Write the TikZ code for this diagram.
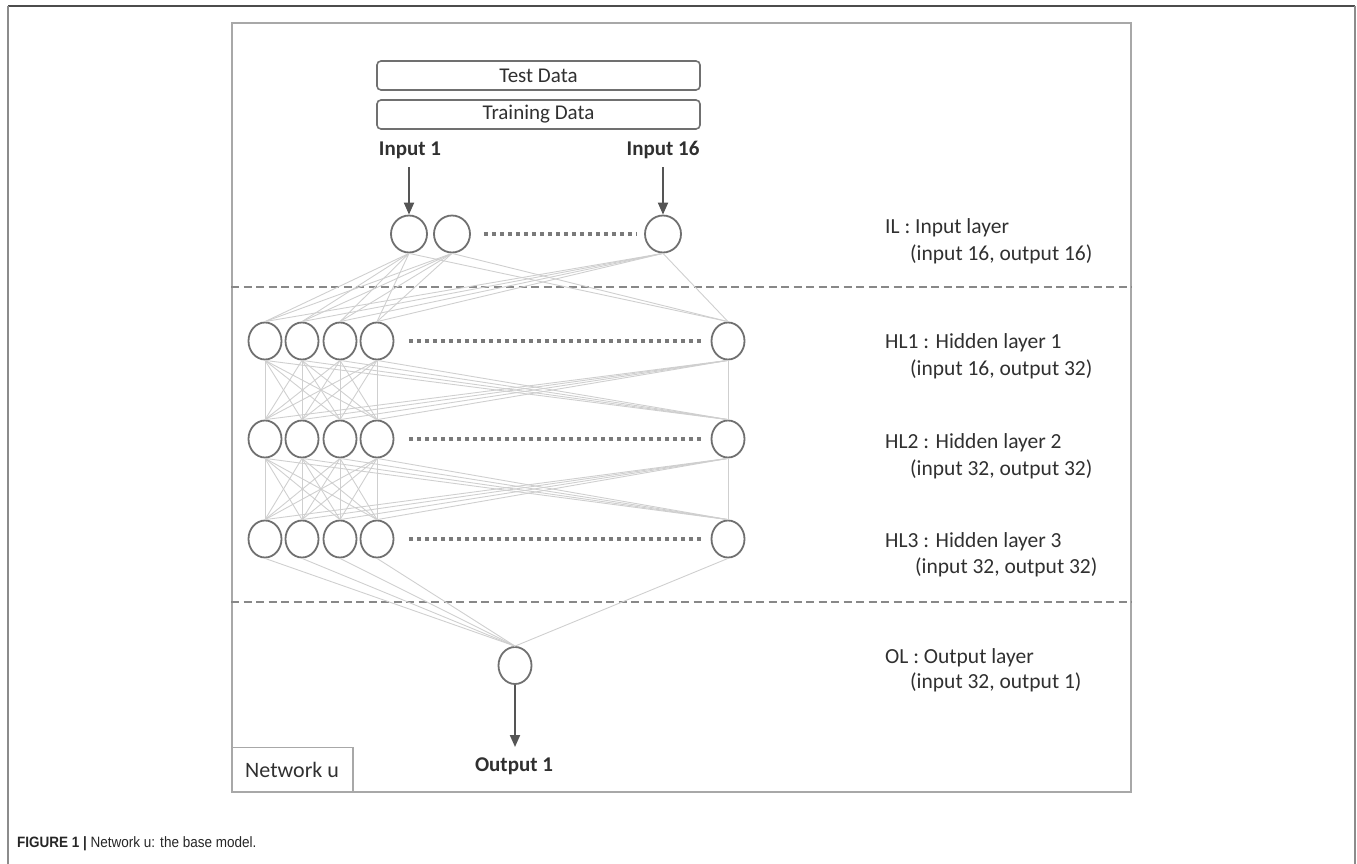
\documentclass[tikz,border=0pt]{standalone}
\usepackage{fontspec}
\setmainfont{Carlito}
\newfontfamily\capfont[FakeStretch=0.9]{Liberation Sans}
\usetikzlibrary{arrows.meta,shapes.geometric}
\definecolor{nodegray}{HTML}{707070}
\definecolor{linkgray}{HTML}{CFCFCF}
\definecolor{framegray}{HTML}{A8A8A8}
\definecolor{dashgray}{HTML}{888888}
\definecolor{dotgray}{HTML}{7A7A7A}
\definecolor{txt}{HTML}{303030}
\definecolor{arrowgray}{HTML}{555555}
\begin{document}
\begin{tikzpicture}[x=1pt,y=-1pt,
  neuron/.style={ellipse,draw=nodegray,fill=white,line width=1.8pt,
    minimum width=33pt,minimum height=37pt,inner sep=0pt},
  inneuron/.style={neuron,minimum width=36pt},
  link/.style={draw=linkgray,line width=0.9pt},
  dots/.style={draw=dotgray,line width=3.6pt,dash pattern=on 4.5pt off 3.5pt},
  sep/.style={draw=dashgray,line width=2pt,dash pattern=on 8pt off 4.5pt},
  flow/.style={draw=arrowgray,line width=2pt,-{Triangle[length=12pt,width=10pt]}},
  databox/.style={draw=nodegray,line width=1.6pt,rounded corners=4pt,
    minimum width=323pt,minimum height=29pt,inner sep=0pt,text=txt,
    font=\fontsize{21}{25}\selectfont},
  lbl/.style={anchor=base west,inner sep=0pt,text=txt,font=\fontsize{21.5}{26}\selectfont},
  bold/.style={anchor=base,inner sep=0pt,text=txt,font=\fontsize{21}{25}\selectfont\bfseries}
]
\useasboundingbox (0,0) rectangle (1357,864);

% page frame and caption
\draw[draw=black!70,line width=1.5pt] (8,6) -- (1355,6);
\draw[draw=black!45,line width=1.5pt] (8,6) -- (8,864);
\draw[draw=black!45,line width=1.5pt] (1355,6) -- (1355,864);
\node[anchor=base west,inner sep=0pt,text=black!85,font=\capfont\fontsize{15}{18}\selectfont]
  (caption) at (17,847) {\textbf{FIGURE 1 |} Network u: the base model.};

% network frame
\node[draw=framegray,line width=2pt,minimum width=899pt,minimum height=769pt,inner sep=0pt]
  (frame) at (681.5,407.5) {};
\node[draw=framegray,line width=1.5pt,anchor=south west,minimum width=121pt,minimum height=45pt,inner sep=0pt]
  (tag) at (frame.south west) {};
\node[anchor=base west,inner sep=0pt,text=txt,font=\fontsize{22}{26}\selectfont]
  (tagtext) at (245,777) {Network u};

% layer separators
\coordinate (s1) at (0,287);
\coordinate (s2) at (0,602);
\draw[sep] (frame.west |- s1) -- (frame.east |- s1);
\draw[sep] (frame.west |- s2) -- (frame.east |- s2);

% data sources
\node[databox] (test) at (538.5,75.5) {Test Data};
\node[databox] (train) at (538.5,114.5) {Training Data};
\node[bold] (in1lbl) at (410,156) {Input 1};
\node[bold] (in16lbl) at (663,156) {Input 16};

% input layer
\node[inneuron] (i1) at (409,234) {};
\node[inneuron] (i2) at (452,234) {};
\node[inneuron] (i3) at (663,234) {};

% hidden layers
\foreach \l/\y in {1/341,2/439,3/539}{
  \foreach \k/\x in {1/265,2/302,3/340,4/377,5/728}{
    \node[neuron] (h\l\k) at (\x,\y) {};
  }
}

% output layer
\node[neuron] (o) at (515,665.5) {};

% connections
\foreach \a in {1,2,3}{
  \foreach \b in {1,...,5}{
    \draw[link] (i\a.south) -- (h1\b.north);
  }
}
\foreach \a in {1,...,5}{
  \foreach \b in {1,...,5}{
    \draw[link] (h1\a.south) -- (h2\b.north);
    \draw[link] (h2\a.south) -- (h3\b.north);
  }
  \draw[link] (h3\a.south) -- (o.north);
}

% ellipsis dots
\draw[dots,shorten <=13pt,shorten >=8pt] (i2.east) -- (i3.west);
\foreach \l in {1,2,3}{
  \draw[dots,shorten <=14.5pt,shorten >=8.5pt] (h\l4.east) -- (h\l5.west);
}

% inputs and output arrows
\coordinate (a1) at (409,167);
\coordinate (a16) at (663,167);
\coordinate (aout) at (515,747);
\draw[flow] (a1) -- (i1.north);
\draw[flow] (a16) -- (i3.north);
\draw[flow] (o.south) -- (aout);
\node[bold] (outlbl) at (514,771) {Output 1};

% layer descriptions
\node[lbl] (il1) at (885,233) {IL : Input layer};
\node[lbl] (il2) at (910,260) {(input 16, output 16)};
\node[lbl] (hl1a) at (885,348) {HL1 : Hidden layer 1};
\node[lbl] (hl1b) at (910,375) {(input 16, output 32)};
\node[lbl] (hl2a) at (885,448) {HL2 : Hidden layer 2};
\node[lbl] (hl2b) at (910,475) {(input 32, output 32)};
\node[lbl] (hl3a) at (885,547) {HL3 : Hidden layer 3};
\node[lbl] (hl3b) at (915,573) {(input 32, output 32)};
\node[lbl] (ola) at (885,663) {OL : Output layer};
\node[lbl] (olb) at (910,688) {(input 32, output 1)};
\end{tikzpicture}
\end{document}
